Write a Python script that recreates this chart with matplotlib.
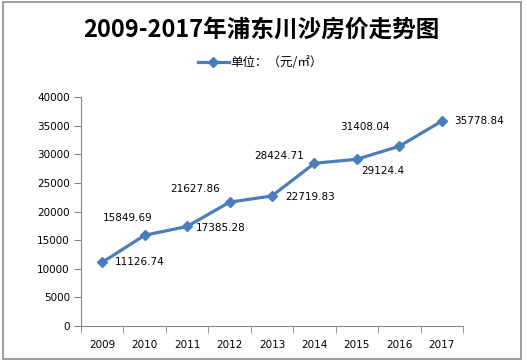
import numpy as np
import matplotlib
matplotlib.use("Agg")
import matplotlib.pyplot as plt
from matplotlib.patches import Rectangle

plt.rcParams['font.family'] = ['Noto Sans CJK SC', 'DejaVu Sans']

# data
years = ['2009', '2010', '2011', '2012', '2013', '2014', '2015', '2016', '2017']
prices = [11126.74, 15849.69, 17385.28, 21627.86, 22719.83, 28424.71, 29124.4, 31408.04, 35778.84]
price_labels = ['11126.74', '15849.69', '17385.28', '21627.86', '22719.83',
                '28424.71', '29124.4', '31408.04', '35778.84']
yticks = [0, 5000, 10000, 15000, 20000, 25000, 30000, 35000, 40000]

# label offsets in pixels (dx, dy, ha)
offs = [(13, 0, 'left'), (-17, 17, 'center'), (9, -2, 'left'), (-34, 13, 'center'),
        (13, -1, 'left'), (-35, 7, 'center'), (26, -12, 'center'), (-34, 19, 'center'),
        (12, 0, 'left')]

blue = '#4A7EBB'
grey = '#868686'

fig = plt.figure(figsize=(5.27, 3.63), dpi=100)
fig.patches.append(Rectangle((3/527, 4/363), 518/527, 357/363, transform=fig.transFigure,
                             fill=False, edgecolor='#8c8c8c', lw=1.2))

ax = fig.add_axes([81/527, 1-326/363, (463-81)/527, (326-97)/363])
x = np.arange(len(years))
ax.plot(x, prices, color=blue, lw=2.3, marker='D', ms=5.5, label='单位：（元/㎡）')

for xi, p, s, (dx, dy, ha) in zip(x, prices, price_labels, offs):
    ax.annotate(s, (xi, p), xytext=(dx, dy), textcoords='offset pixels',
                ha=ha, va='center', fontsize=7.5, family='DejaVu Sans')

ax.set_xlim(-0.5, len(years) - 0.5)
ax.set_ylim(0, 40000)
ax.set_yticks(yticks)
ax.set_yticklabels([str(v) for v in yticks], family='DejaVu Sans', fontsize=7.5)
ax.set_xticks(x)
ax.set_xticklabels(years, family='DejaVu Sans', fontsize=7.5)
ax.set_xticks(np.arange(-0.5, len(years)), minor=True)
ax.tick_params(axis='x', which='major', length=0, pad=10)
ax.tick_params(axis='x', which='minor', length=5, color=grey, direction='out')
ax.tick_params(axis='y', length=5, color=grey, direction='out', pad=3)
for side in ['top', 'right']:
    ax.spines[side].set_visible(False)
for side in ['left', 'bottom']:
    ax.spines[side].set_color(grey)

fig.text(261/527, 1-30/363, '2009-2017年浦东川沙房价走势图', ha='center', va='center',
         fontsize=17, fontweight='bold')
fig.legend(loc='center', bbox_to_anchor=(260/527, 1-63/363), frameon=False,
           fontsize=9, handlelength=2.5, handletextpad=0.1)

fig.savefig('out.png', dpi=100)
